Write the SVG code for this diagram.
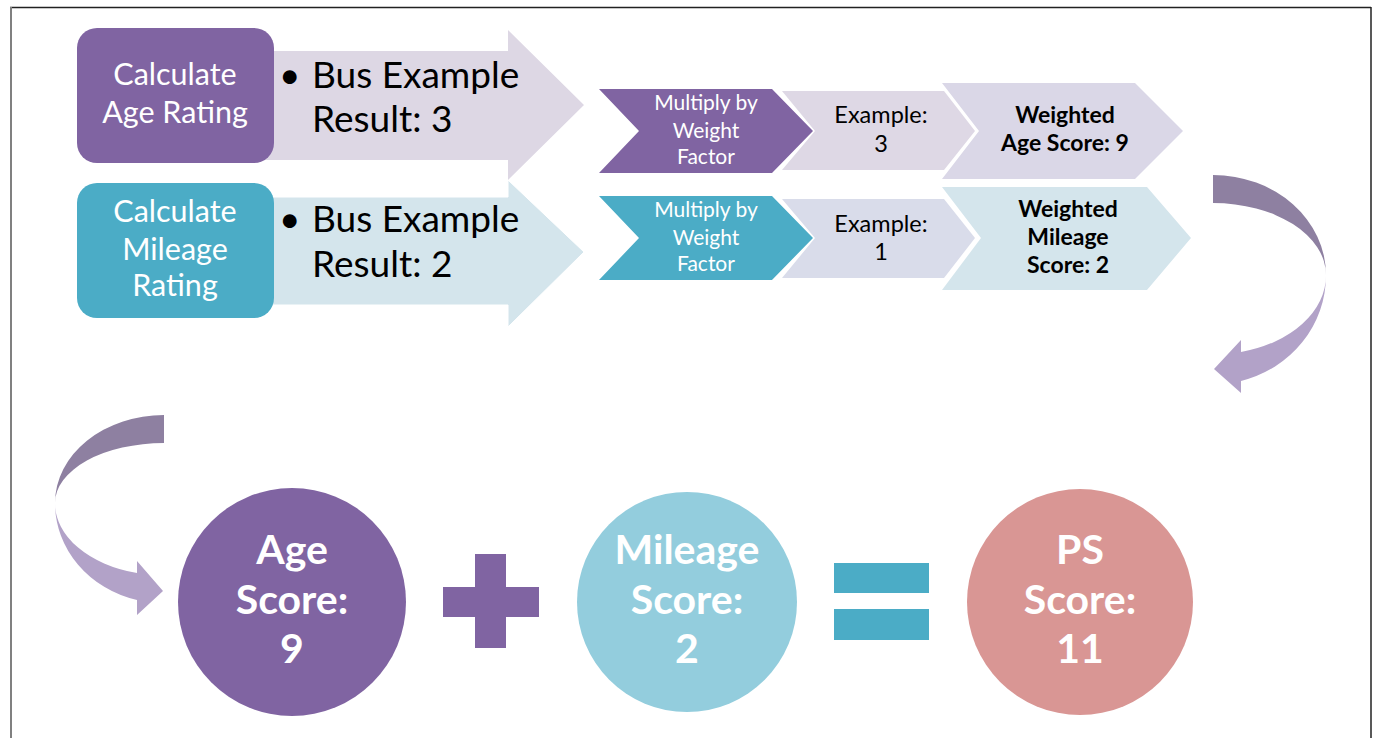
<svg xmlns="http://www.w3.org/2000/svg" width="1374" height="738" viewBox="0 0 1374 738">
  <style>
    .t { font-family: Lato, "Liberation Sans", sans-serif; }
    .w { fill: #ffffff; }
    .k { fill: #000000; }
    .b { font-weight: bold; }
    .mid { text-anchor: middle; }
    .big { font-size: 37px; }
    .box { font-size: 30.5px; }
    .mul { font-size: 21px; }
    .ex { font-size: 23.5px; }
    .wt { font-size: 23px; }
    .sc { font-size: 41px; }
  </style>
  <rect x="0" y="0" width="1374" height="738" fill="#ffffff"/>
  <!-- page frame -->
  <g id="frame">
    <line x1="10" y1="7.5" x2="1371" y2="7.5" stroke="#222222" stroke-width="1.5"/>
    <line x1="11" y1="7" x2="11" y2="738" stroke="#808080" stroke-width="2"/>
    <line x1="1371" y1="7" x2="1371" y2="738" stroke="#222222" stroke-width="1.5"/>
  </g>

  <!-- big result arrows -->
  <g id="age-result">
    <path d="M260,51 H508 V30 L584,105 L508,180 V160 H260 Z" fill="#DDD7E4"/>
    <text class="t k big" x="279" y="88">•</text>
    <text class="t k big" x="312" y="88">Bus Example</text>
    <text class="t k big" x="312" y="132">Result: 3</text>
  </g>
  <g id="mileage-result">
    <path d="M260,197 H508 V180 L584,252 L508,327 V305 H260 Z" fill="#D4E5EC" stroke="#ffffff" stroke-width="1"/>
    <text class="t k big" x="279" y="232">•</text>
    <text class="t k big" x="312" y="232">Bus Example</text>
    <text class="t k big" x="312" y="277">Result: 2</text>
  </g>

  <g id="age-rating">
    <rect x="77" y="28" width="197" height="135" rx="20" fill="#8064A2"/>
    <text class="t w mid box" x="175" y="85">Calculate</text>
    <text class="t w mid box" x="175" y="123">Age Rating</text>
  </g>
  <g id="mileage-rating">
    <rect x="77" y="183" width="197" height="135" rx="20" fill="#4BACC6"/>
    <text class="t w mid box" x="175" y="222">Calculate</text>
    <text class="t w mid box" x="175" y="260">Mileage</text>
    <text class="t w mid box" x="175" y="296">Rating</text>
  </g>

  <!-- weighting chevrons, age row -->
  <g id="age-multiply">
    <path d="M599,89 H772 L813,131 L772,173 H599 L639,131 Z" fill="#8064A2"/>
    <text class="t w mid mul" x="706" y="110">Multiply by</text>
    <text class="t w mid mul" x="706" y="138">Weight</text>
    <text class="t w mid mul" x="706" y="164">Factor</text>
  </g>
  <g id="age-example">
    <path d="M782,91 H944 L975,131 L944,170 H782 L815,131 Z" fill="#DED8E5"/>
    <text class="t k mid ex" x="881" y="123">Example:</text>
    <text class="t k mid ex" x="881" y="152">3</text>
  </g>
  <g id="age-weighted">
    <path d="M942,83 H1135 L1183,131 L1135,179 H942 L979,131 Z" fill="#DAD7E7"/>
    <text class="t k b mid wt" x="1065" y="123">Weighted</text>
    <text class="t k b mid wt" x="1065" y="151">Age Score: 9</text>
  </g>

  <!-- weighting chevrons, mileage row -->
  <g id="mileage-multiply">
    <path d="M599,196 H772 L813,238 L772,280 H599 L639,238 Z" fill="#4BACC6"/>
    <text class="t w mid mul" x="706" y="217">Multiply by</text>
    <text class="t w mid mul" x="706" y="245">Weight</text>
    <text class="t w mid mul" x="706" y="271">Factor</text>
  </g>
  <g id="mileage-example">
    <path d="M782,199 H944 L975,238 L944,278 H782 L815,238 Z" fill="#D9DCEA"/>
    <text class="t k mid ex" x="881" y="232">Example:</text>
    <text class="t k mid ex" x="881" y="260">1</text>
  </g>
  <g id="mileage-weighted">
    <path d="M942,187 H1147 L1191,238 L1147,290 H942 L981,238 Z" fill="#D4E5EC"/>
    <text class="t k b mid wt" x="1068" y="217">Weighted</text>
    <text class="t k b mid wt" x="1068" y="245">Mileage</text>
    <text class="t k b mid wt" x="1068" y="273">Score: 2</text>
  </g>

  <!-- curved turn arrows -->
  <g id="connectors">
    <g id="turn-right">
      <path d="M1213,175 A113,100 0 0 1 1326,275 A113,72 0 0 0 1213,203 Z" fill="#8E80A1"/>
      <path d="M1326,275 A113,109 0 0 1 1241,381 L1241,393 L1214,369 L1241,340 L1241,352 A113,79 0 0 0 1326,275 Z" fill="#B2A2C8"/>
    </g>
    <g id="turn-left">
      <path d="M164,415 A109,88 0 0 0 55,503 A109,60 0 0 1 164,443 Z" fill="#8E80A1"/>
      <path d="M55,503 A109,100 0 0 0 137,600 L137,615 L163,591 L137,561 L137,573 A109,72 0 0 1 55,503 Z" fill="#B2A2C8"/>
    </g>
  </g>

  <!-- score equation -->
  <g id="age-score">
    <circle cx="292" cy="602" r="114" fill="#8064A2"/>
    <text class="t w b mid sc" x="292" y="564">Age</text>
    <text class="t w b mid sc" x="292" y="614">Score:</text>
    <text class="t w b mid sc" x="292" y="663">9</text>
  </g>
  <g id="plus">
    <rect x="475" y="554" width="31" height="94" fill="#8064A2"/>
    <rect x="443" y="587" width="96" height="30" fill="#8064A2"/>
  </g>
  <g id="mileage-score">
    <circle cx="687" cy="602" r="110" fill="#93CDDD"/>
    <text class="t w b mid sc" x="687" y="564">Mileage</text>
    <text class="t w b mid sc" x="687" y="614">Score:</text>
    <text class="t w b mid sc" x="687" y="663">2</text>
  </g>
  <g id="equals">
    <rect x="834" y="563" width="95" height="30" fill="#4BACC6"/>
    <rect x="834" y="609" width="95" height="31" fill="#4BACC6"/>
  </g>
  <g id="ps-score">
    <circle cx="1080" cy="602" r="113" fill="#D99694"/>
    <text class="t w b mid sc" x="1080" y="564">PS</text>
    <text class="t w b mid sc" x="1080" y="614">Score:</text>
    <text class="t w b mid sc" x="1080" y="663">11</text>
  </g>
</svg>
